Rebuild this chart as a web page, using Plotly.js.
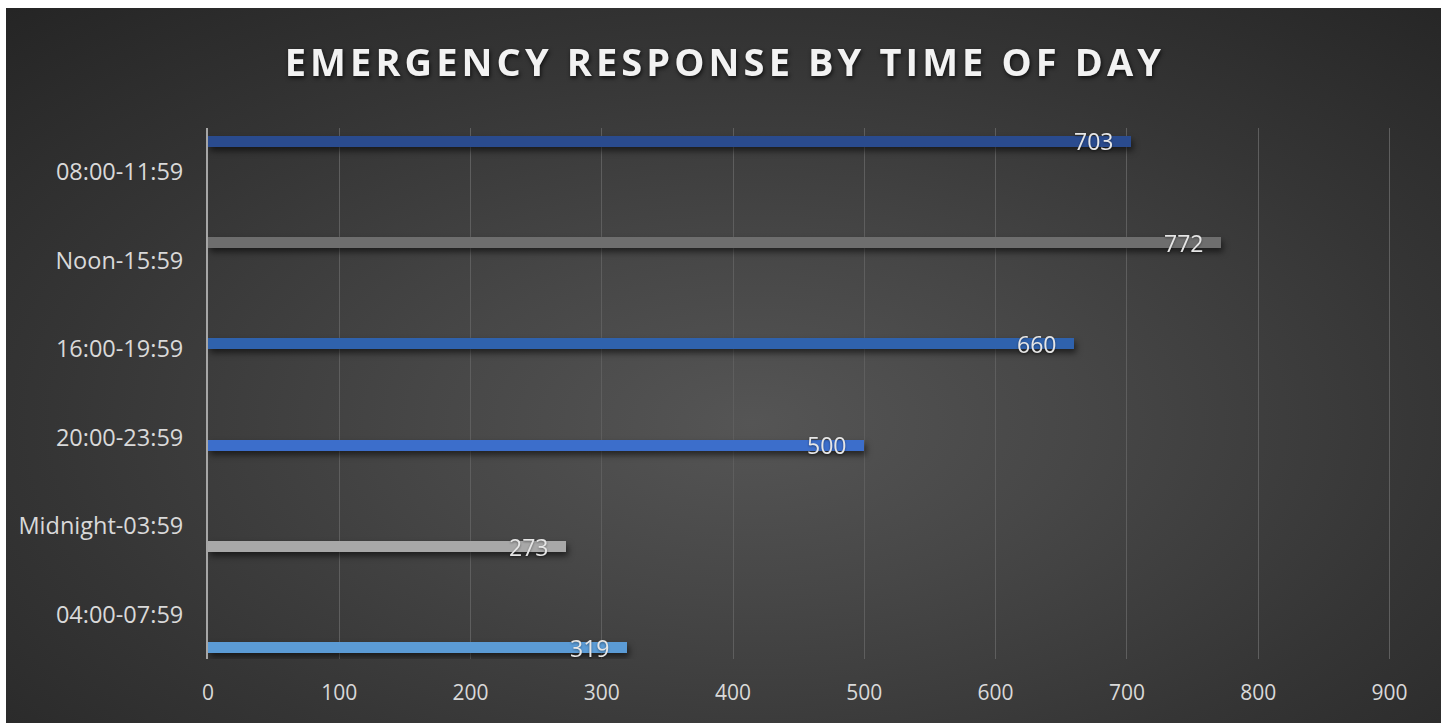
<!DOCTYPE html>
<html>
<head>
<meta charset="utf-8">
<script src="https://cdn.plot.ly/plotly-3.0.1.min.js"></script>
<style>
  html, body { margin: 0; padding: 0; background: #ffffff; width: 1441px; height: 723px; overflow: hidden; }
  #chart {
    position: absolute; left: 6px; top: 8px; width: 1435px; height: 715px;
    background: radial-gradient(ellipse 75% 80% at 52% 58%, #555555 0%, #474747 30%, #353535 65%, #252525 100%);
  }
  #chart .gtitle { letter-spacing: 4.1px; filter: drop-shadow(1px 2px 2px rgba(0,0,0,0.7)); }
  #chart .bars path { filter: drop-shadow(2px 4px 3px rgba(0,0,0,0.55)); }
  #chart .annotation-text { filter: drop-shadow(0px 1px 1px rgba(0,0,0,0.4)); }
</style>
</head>
<body>
<div id="chart"></div>
<script>
const categories = ["08:00-11:59", "Noon-15:59", "16:00-19:59", "20:00-23:59", "Midnight-03:59", "04:00-07:59"];
const responses = [703, 772, 660, 500, 273, 319];
const barColors = ["#2a4b8e", "#6e6e6e", "#2f62ad", "#3c6ecb", "#a8a8a8", "#5b9bd5"];
const xTicks = [0, 100, 200, 300, 400, 500, 600, 700, 800, 900];

const bars = {
  type: "bar",
  orientation: "h",
  x: responses,
  y: categories,
  yaxis: "y2",
  width: 0.11,
  marker: { color: barColors, line: { width: 0 } },
  hoverinfo: "x+y",
  showlegend: false
};

// invisible trace to keep the label axis populated
const labelAxisTrace = {
  type: "scatter",
  mode: "none",
  x: responses.map(() => 0),
  y: categories,
  yaxis: "y",
  hoverinfo: "skip",
  showlegend: false
};

const annotations = responses.map((v, i) => ({
  x: v, y: categories[i], xref: "x", yref: "y2",
  text: String(v), showarrow: false,
  xanchor: "right", yanchor: "middle", xshift: -16, yshift: 0,
  font: { family: "Open Sans, sans-serif", size: 23, color: "#e6e6e6" }
}));

const layout = {
  width: 1435, height: 715,
  paper_bgcolor: "rgba(0,0,0,0)",
  plot_bgcolor: "rgba(0,0,0,0)",
  margin: { l: 202, r: 45, t: 120, b: 64, pad: 0 },
  title: {
    text: "<b>EMERGENCY RESPONSE BY TIME OF DAY</b>",
    x: 0.501, xanchor: "center", xref: "container",
    y: 0.923, yanchor: "middle", yref: "container",
    font: { family: "Open Sans, sans-serif", size: 38, color: "#f2f2f2" }
  },
  xaxis: {
    range: [0, 905],
    tickvals: xTicks,
    ticktext: xTicks.map(String),
    showgrid: true, gridcolor: "#5e5e5e", gridwidth: 1,
    zeroline: false, showline: false,
    ticks: "", ticklabelstandoff: 19,
    tickfont: { family: "Open Sans, sans-serif", size: 21, color: "#d9d9d9" },
    fixedrange: true
  },
  yaxis: {
    type: "category",
    categoryorder: "array", categoryarray: categories,
    range: [5.5, -0.5],
    showgrid: false, zeroline: false,
    showline: true, linecolor: "#a6a6a6", linewidth: 2,
    ticks: "", ticklabelstandoff: 18,
    tickfont: { family: "Open Sans, sans-serif", size: 23.5, color: "#d9d9d9" },
    fixedrange: true
  },
  yaxis2: {
    type: "category",
    categoryorder: "array", categoryarray: categories,
    overlaying: "y",
    range: [5.11, -0.13],
    showgrid: false, zeroline: false, showline: false,
    showticklabels: false, ticks: "",
    fixedrange: true
  },
  annotations: annotations,
  bargap: 0
};

Plotly.newPlot("chart", [labelAxisTrace, bars], layout, { displayModeBar: false, responsive: false });
</script>
</body>
</html>
